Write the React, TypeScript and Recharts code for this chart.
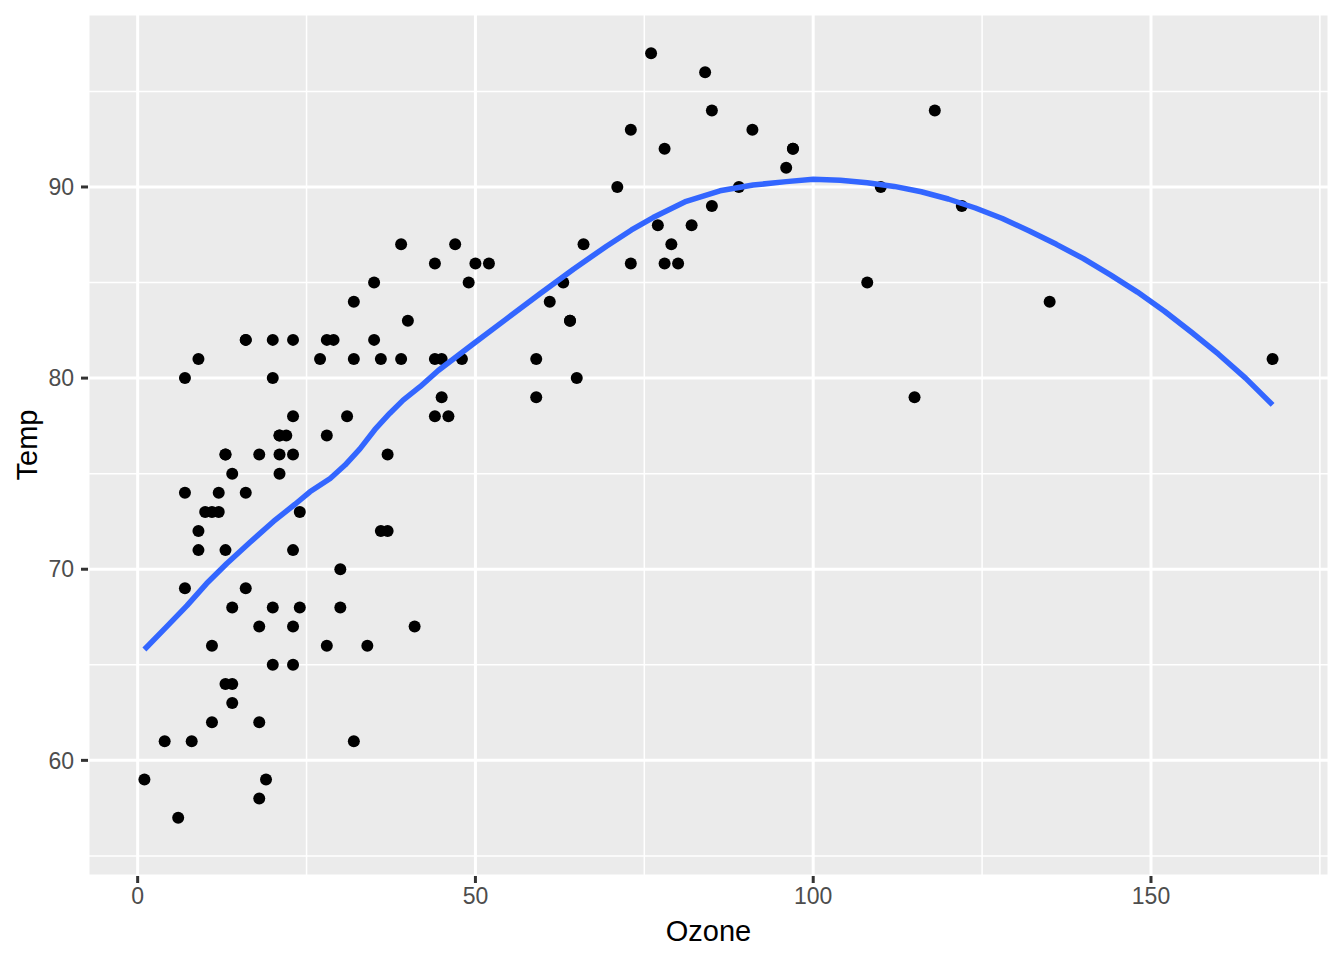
import {
  CartesianGrid,
  ReferenceLine,
  Scatter,
  ScatterChart,
  XAxis,
  YAxis,
} from "recharts";

// airquality: rows with an Ozone reading
const ozone = [
  41, 36, 12, 18, 28, 23, 19, 8, 7, 16, 11, 14, 18, 14, 34, 6, 30, 11, 1, 11,
  4, 32, 23, 45, 115, 37, 29, 71, 39, 23, 21, 37, 20, 12, 13, 135, 49, 32, 64,
  40, 77, 97, 97, 85, 10, 27, 7, 48, 35, 61, 79, 63, 16, 80, 108, 20, 52, 82,
  50, 64, 59, 39, 9, 16, 78, 35, 66, 122, 89, 110, 44, 28, 65, 22, 59, 23, 31,
  44, 21, 9, 45, 168, 73, 76, 118, 84, 85, 96, 78, 73, 91, 47, 32, 20, 23, 21,
  24, 44, 21, 28, 9, 13, 46, 18, 13, 24, 16, 13, 23, 36, 7, 14, 30, 14, 18, 20,
];
const temp = [
  67, 72, 74, 62, 66, 65, 59, 61, 74, 69, 66, 68, 58, 64, 66, 57, 68, 62, 59,
  73, 61, 61, 67, 81, 79, 76, 82, 90, 87, 82, 77, 72, 65, 73, 76, 84, 85, 81,
  83, 83, 88, 92, 92, 89, 73, 81, 80, 81, 82, 84, 87, 85, 74, 86, 85, 82, 86,
  88, 86, 83, 81, 81, 81, 82, 86, 85, 87, 89, 90, 90, 86, 82, 80, 77, 79, 76,
  78, 78, 77, 72, 79, 81, 86, 97, 94, 96, 94, 91, 92, 93, 93, 87, 84, 80, 78,
  75, 73, 81, 76, 77, 71, 71, 78, 67, 76, 68, 82, 64, 71, 81, 69, 63, 70, 75,
  76, 68,
];

// loess curve
const smoothOzone = [
  1, 4.3, 7.3, 10.2, 13.2, 16.6, 20.1, 23.3, 25.5, 28.5, 30.7, 32.9, 35.1,
  37.3, 39.3, 41.8, 44.5, 49.7, 54.6, 59.5, 64.5, 69.4, 73.1, 76.3, 81.2, 86.2,
  91.1, 96, 100, 104, 108, 112, 116, 120, 124, 128, 132, 136, 140, 144, 148,
  152, 156, 160, 164, 168,
];
const smoothTemp = [
  65.8, 67.0, 68.1, 69.25, 70.3, 71.4, 72.5, 73.4, 74.05, 74.75, 75.45, 76.3,
  77.3, 78.15, 78.85, 79.55, 80.4, 81.8, 83.1, 84.4, 85.7, 86.9, 87.75, 88.4,
  89.25, 89.8, 90.1, 90.28, 90.4, 90.35, 90.22, 90.03, 89.75, 89.37, 88.9,
  88.35, 87.7, 87.0, 86.25, 85.4, 84.5, 83.5, 82.4, 81.25, 80.0, 78.6,
];

const xTicks = [0, 50, 100, 150];
const yTicks = [60, 70, 80, 90];
const xMinor = [25, 75, 125, 175];
const yMinor = [55, 65, 75, 85, 95];

const points = ozone.map((o, i) => ({ ozone: o, temp: temp[i] }));
const curve = smoothOzone.map((o, i) => ({ ozone: o, temp: smoothTemp[i] }));

const font = "'Liberation Sans', Arial, Helvetica, sans-serif";
const tickStyle = { fill: "#4D4D4D", fontSize: 23, fontFamily: font };
const tickLine = { stroke: "#333333", strokeWidth: 3 };

export default function App() {
  return (
    <div style={{ position: "absolute", left: 0, top: 0, background: "#fff" }}>
      <ScatterChart
        width={1344}
        height={960}
        margin={{ top: 14, right: 15, bottom: 0, left: 0 }}
      >
        <CartesianGrid fill="#EBEBEB" stroke="#FFFFFF" strokeWidth={3} />
        {xMinor.map((v) => (
          <ReferenceLine key={"x" + v} x={v} stroke="#FFFFFF" strokeWidth={1.5} />
        ))}
        {yMinor.map((v) => (
          <ReferenceLine key={"y" + v} y={v} stroke="#FFFFFF" strokeWidth={1.5} />
        ))}
        <XAxis
          type="number"
          dataKey="ozone"
          domain={[-7.35, 176.35]}
          ticks={xTicks}
          allowDataOverflow
          height={84}
          axisLine={false}
          tickSize={7}
          tickMargin={5}
          tickLine={tickLine}
          tick={tickStyle}
          label={{
            value: "Ozone",
            position: "insideBottom",
            offset: 19,
            fill: "#000",
            fontSize: 29,
            fontFamily: font,
          }}
        />
        <YAxis
          type="number"
          dataKey="temp"
          domain={[53.95, 99.05]}
          ticks={yTicks}
          allowDataOverflow
          width={88}
          axisLine={false}
          tickSize={7}
          tickMargin={7}
          tickLine={tickLine}
          tick={tickStyle}
          label={({ viewBox }: any) => (
            <text
              x={viewBox.x + 27}
              y={viewBox.y + viewBox.height / 2}
              transform={`rotate(-90 ${viewBox.x + 27} ${viewBox.y + viewBox.height / 2})`}
              textAnchor="middle"
              dominantBaseline="central"
              fill="#000"
              fontSize={29}
              fontFamily={font}
            >
              Temp
            </text>
          )}
        />
        <Scatter
          data={points}
          isAnimationActive={false}
          shape={(p: any) => <circle cx={p.cx} cy={p.cy} r={6} fill="#000" />}
        />
        <Scatter
          data={curve}
          isAnimationActive={false}
          line={{ stroke: "#3366FF", strokeWidth: 5.5, strokeLinejoin: "round" }}
          lineType="joint"
          shape={() => <g />}
        />
      </ScatterChart>
    </div>
  );
}
